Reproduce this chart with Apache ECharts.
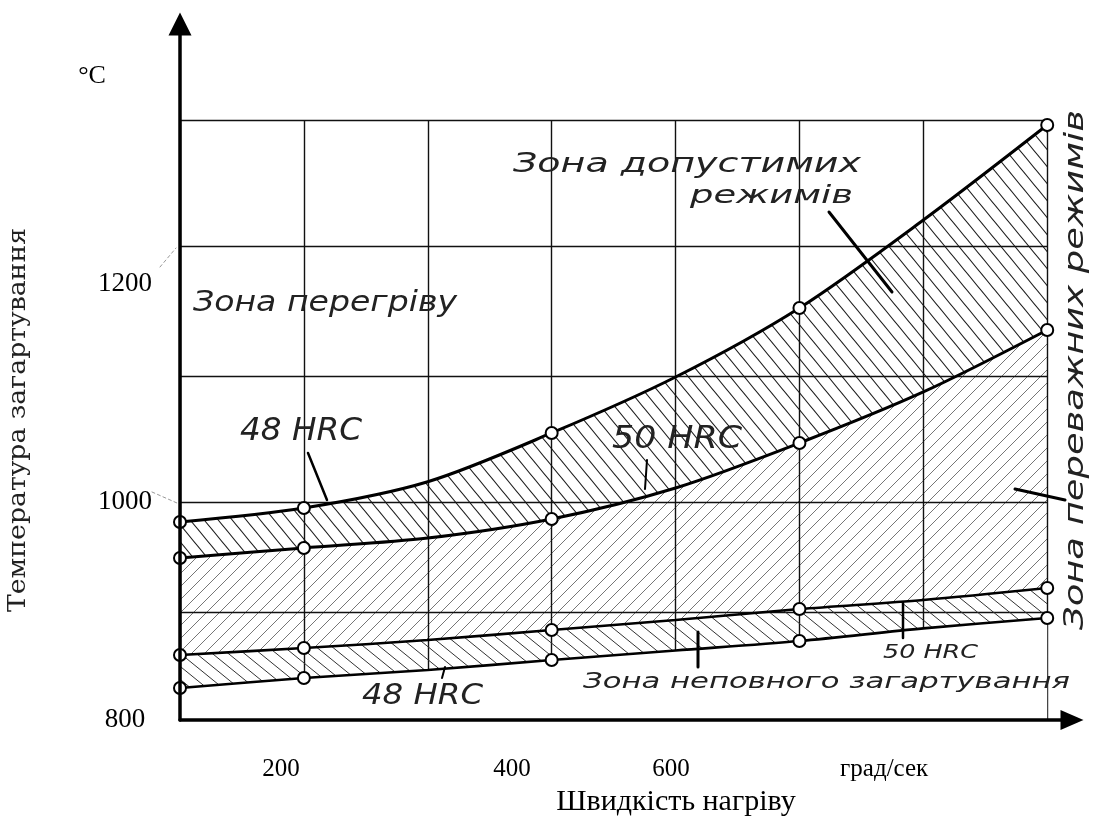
<!DOCTYPE html>
<html><head><meta charset="utf-8">
<script src="https://cdn.jsdelivr.net/npm/echarts@6/dist/echarts.min.js"></script>
<style>html,body{margin:0;padding:0;background:#fff}#c{width:1098px;height:818px}</style>
</head><body><div id="c"></div>
<script>
// ---------- data ----------
const speed = [0, 100, 200, 300, 400, 500, 600, 700];      // positions along the speed axis (grid units)
const markedAt = [0, 100, 300, 500, 700];                   // points drawn with circles
const hrc48Upper = [981.5, 994.3, 1018.4, 1063.1, 1114.4, 1177.7, 1258.3, 1345.4];
const hrc50Upper = [948.5, 957.7, 966.8, 984.3, 1012.7, 1053.9, 1100.7, 1157.5];
const hrc50Lower = [859.6, 866.0, 873.3, 882.5, 891.7, 901.7, 910.0, 921.0];
const hrc48Lower = [829.3, 838.5, 845.8, 855.0, 863.7, 872.4, 884.0, 893.5];
const xTickValues = [81.5, 268, 396.4, 568.4];
const xTickLabels = ['200', '400', '600', 'град/сек'];
const yTickValues = [800, 1000, 1200];
const yTickLabels = ['800', '1000', '1200'];
const gridX = [0, 100, 200, 300, 400, 500, 600, 700];
const gridY = [899, 1000, 1115, 1234, 1350];

// ---------- helpers ----------
function hatch(w, h, dir, color, lw) {
  const c = document.createElement('canvas'); c.width = w; c.height = h;
  const g = c.getContext('2d'); g.strokeStyle = color; g.lineWidth = lw;
  for (const off of [-w, 0, w]) {
    g.beginPath();
    if (dir === '\\') { g.moveTo(off - w, -h); g.lineTo(off + 2 * w, 2 * h); }
    else { g.moveTo(off - w, 2 * h); g.lineTo(off + 2 * w, -h); }
    g.stroke();
  }
  return { image: c, repeat: 'repeat' };
}
const mctx = document.createElement('canvas').getContext('2d');
function measure(text, font) { mctx.font = font; return mctx.measureText(text).width; }

const HAND = 'DejaVu Sans';
function hand(text, left, baseline, width, size, rot) {
  const w = measure(text, `italic ${size}px "${HAND}"`);
  const el = {
    type: 'text', x: left, y: baseline - 0.346 * size, scaleX: width / w, z: 50,
    style: { text: text, fontSize: size, fontFamily: HAND, fontStyle: 'italic', fill: '#222',
             align: 'left', verticalAlign: 'middle', textAlign: 'left', textVerticalAlign: 'middle' }
  };
  if (rot) { el.rotation = rot; }
  return el;
}
function serif(text, x, y, size, align, family) {
  return { type: 'text', x: x, y: y, z: 50,
    style: { text: text, fontSize: size, fontFamily: family || 'Liberation Serif', fill: '#000',
             align: align || 'center', verticalAlign: 'middle', textAlign: align || 'center', textVerticalAlign: 'middle' } };
}
function seg(x1, y1, x2, y2, w, dash, color) {
  return { type: 'line', z: 50, shape: { x1, y1, x2, y2 },
    style: { stroke: color || '#000', lineWidth: w, lineDash: dash || null, lineCap: 'round' } };
}

const withMarks = arr => speed.map((x, i) => markedAt.includes(x) ? [x, arr[i]] : { value: [x, arr[i]], symbol: 'none' });

const SM = 0.3;
function curve(arr, lw) {
  return { type: 'line', data: withMarks(arr), smooth: SM, z: 10, symbol: 'emptyCircle', symbolSize: 12,
    lineStyle: { color: '#000', width: lw }, itemStyle: { color: '#000', borderColor: '#000', borderWidth: 1.6 },
    silent: true, emphasis: { disabled: true } };
}
// area from a curve down to the bottom of the axis; later ones are painted over earlier ones
function fillTo(arr, color, z) {
  return { type: 'line', data: speed.map((x, i) => [x, arr[i]]), smooth: SM, z: z, symbol: 'none',
    lineStyle: { width: 0, opacity: 0 }, areaStyle: { color: color, opacity: 1, origin: 'start' },
    silent: true, emphasis: { disabled: true } };
}

const gridLines = [];
gridY.forEach(v => gridLines.push([{ coord: [gridX[0], v] }, { coord: [gridX[gridX.length - 1], v] }]));
gridX.forEach(v => gridLines.push([{ coord: [v, 800] }, { coord: [v, gridY[gridY.length - 1]] }]));

// ---------- chart ----------
const chart = echarts.init(document.getElementById('c'), null, { renderer: 'canvas' });
chart.setOption({
  animation: false,
  backgroundColor: '#fff',
  grid: { left: 180, right: 26, top: 24, bottom: 98, containLabel: false, outerBoundsMode: 'none' },
  xAxis: {
    type: 'value', min: 0, max: 720, z: 20,
    axisLine: { show: true, symbol: ['none', 'triangle'], symbolSize: [20, 23], lineStyle: { color: '#000', width: 3.5 } },
    axisTick: { show: false }, splitLine: { show: false },
    axisLabel: { show: true, customValues: xTickValues, margin: 37, fontSize: 25, fontFamily: 'Liberation Serif', color: '#000',
      formatter: v => { const i = xTickValues.findIndex(t => Math.abs(t - v) < 0.01); return i >= 0 ? xTickLabels[i] : ''; } }
  },
  yAxis: {
    type: 'value', min: 800, max: 1438, z: 20,
    axisLine: { show: true, symbol: ['none', 'triangle'], symbolSize: [23, 23], lineStyle: { color: '#000', width: 3.5 } },
    axisTick: { show: false }, splitLine: { show: false },
    axisLabel: { show: true, customValues: yTickValues, margin: 55, align: 'center', fontSize: 27, fontFamily: 'Liberation Serif', color: '#000',
      formatter: v => { const i = yTickValues.indexOf(v); return i >= 0 ? yTickLabels[i] : ''; } }
  },
  series: [
    fillTo(hrc48Upper, hatch(14, 17, '\\', '#1a1a1a', 1.1), 1),
    fillTo(hrc50Upper, '#ffffff', 2),
    fillTo(hrc50Upper, hatch(13, 13, '/', '#666', 0.9), 3),
    fillTo(hrc50Lower, '#ffffff', 4),
    fillTo(hrc50Lower, hatch(16, 13, '\\', '#333', 1), 5),
    fillTo(hrc48Lower, '#ffffff', 6),
    { type: 'line', data: [], z: 8, silent: true,
      markLine: { silent: true, symbol: ['none', 'none'], label: { show: false }, animation: false,
        lineStyle: { color: '#111', width: 1.4, type: 'solid', opacity: 1 }, emphasis: { disabled: true }, data: gridLines } },
    curve(hrc48Upper, 3),
    curve(hrc50Upper, 3),
    curve(hrc50Lower, 2.6),
    curve(hrc48Lower, 2.6)
  ],
  graphic: { elements: [
    serif('°C', 92, 76, 26),
    serif('Швидкість нагріву', 676, 802, 30),
    (function () {
      const t = 'Температура загартування', size = 24;
      const w = measure(t, `${size}px "DejaVu Serif"`);
      return { type: 'text', x: 19, y: 612, rotation: Math.PI / 2, scaleX: 384 / w, z: 50,
        style: { text: t, fontSize: size, fontFamily: 'DejaVu Serif', fill: '#222', align: 'left', verticalAlign: 'middle', textAlign: 'left', textVerticalAlign: 'middle' } };
    })(),
    hand('Зона перегріву', 193, 313, 264, 28),
    hand('Зона допустимих', 513, 174, 348, 27),
    hand('режимів', 690, 205, 163, 25),
    hand('48 HRC', 240, 443, 122, 32),
    hand('50 HRC', 612, 451, 130, 32),
    hand('48 HRC', 362, 706, 121, 28),
    hand('Зона неповного загартування', 583, 690, 487, 22),
    hand('50 HRC', 883, 660, 95, 20),
    (function () { const e = hand('Зона переважних режимів', 0, 0, 520, 26, Math.PI / 2); e.x = 1076; e.y = 630; return e; })(),
    seg(308, 453, 327, 500, 2.5),
    seg(829, 212, 892, 292, 3),
    seg(647, 460, 645, 489, 2),
    seg(445, 667, 442, 678, 2),
    seg(698, 632, 698, 667, 3),
    seg(903, 603, 903, 638, 2.5),
    seg(1015, 489, 1065, 500, 3),
    seg(160, 267, 176, 248, 1, [3, 3], '#999'),
    seg(152, 492, 177, 503, 1, [3, 3], '#999')
  ] }
});
</script>
</body></html>
